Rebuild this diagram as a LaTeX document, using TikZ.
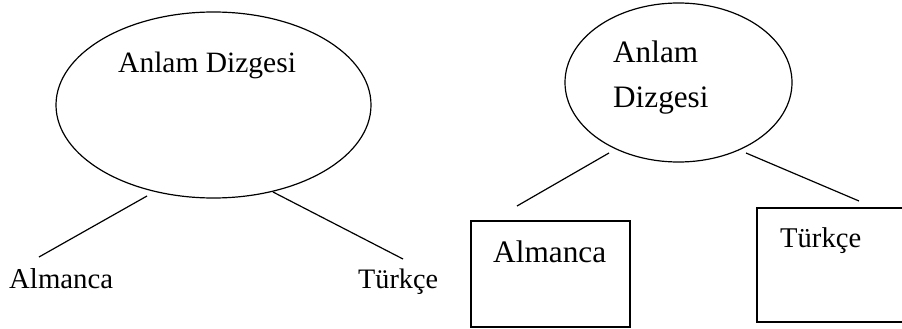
\documentclass[tikz,border=0pt]{standalone}
\usepackage{fontspec}
\setmainfont{Liberation Serif}
\usetikzlibrary{shapes.geometric}
\tikzset{
  stroke/.style={line width=1.2pt, draw=black},
  oval/.style={stroke, ellipse, inner sep=0pt},
  framebox/.style={stroke},
  word/.style={inner sep=0pt, anchor=base west},
  link/.style={stroke, line cap=butt},
}
\newcommand{\sz}[1]{\fontsize{#1}{#1}\selectfont}
\begin{document}
\begin{tikzpicture}[x=1pt,y=-1pt]
\useasboundingbox (0,0) rectangle (902,329);
\begin{scope}
\clip (0,0) rectangle (902,329);

% left tree: ellipse with plain labels
\node[oval, minimum width=315pt, minimum height=186pt] (lroot) at (213.5,105) {};
\node[word] (ltitle) at (118,73) {\sz{29.5}Anlam Dizgesi};
\node[word] (lde) at (9,288) {\sz{28.8}Almanca};
\node[word] (ltr) at (358,288) {\sz{28.2}Türkçe};
\coordinate (lde-top) at (39,257);
\coordinate (ltr-top) at (403,259);
\coordinate (lroot-l) at (147,196);
\coordinate (lroot-r) at (273,192);
\draw[link] (lroot-l) -- (lde-top);
\draw[link] (lroot-r) -- (ltr-top);

% right tree: ellipse with boxed leaves
\node[oval, minimum width=227pt, minimum height=159pt] (rroot) at (678.5,82.5) {};
\node[word] (rtitle1) at (613,63) {\sz{31.2}Anlam};
\node[word] (rtitle2) at (613,107) {\sz{31.2}Dizgesi};
\draw[framebox] (471,221) rectangle (630,327);
\node[word] (rde) at (493,262) {\sz{31.3}Almanca};
\draw[framebox] (757,208) rectangle (915,322);
\node[word] (rtr) at (780,247) {\sz{28.6}Türkçe};
\coordinate (rroot-l) at (609,153);
\coordinate (rroot-r) at (746,153);
\coordinate (rde-top) at (517,206);
\coordinate (rtr-top) at (859,201);
\draw[link] (rroot-l) -- (rde-top);
\draw[link] (rroot-r) -- (rtr-top);
\end{scope}
\end{tikzpicture}
\end{document}
